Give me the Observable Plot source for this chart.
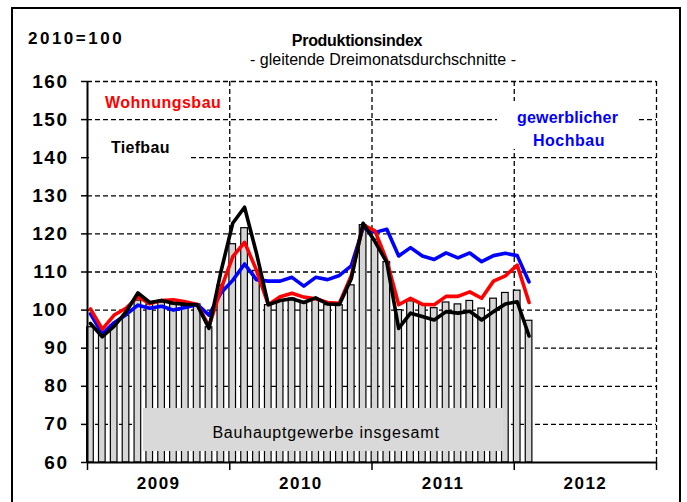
<!DOCTYPE html>
<html><head><meta charset="utf-8">
<script src="https://cdn.jsdelivr.net/npm/d3@7"></script>
<script src="https://cdn.jsdelivr.net/npm/@observablehq/plot@0.6"></script>
<style>
html,body{margin:0;padding:0;background:#fff;}
#chart{width:687px;height:502px;overflow:hidden;}
</style></head><body><div id="chart"></div>
<script>
// Months Jan 2009 .. Feb 2012 (38 months), index 0..37
const years = ["2009", "2010", "2011", "2012"];
const yTicks = [60, 70, 80, 90, 100, 110, 120, 130, 140, 150, 160];
const insgesamt = [95.5, 93.5, 96, 98.5, 102.5, 101.5, 102, 101.5, 101.5, 101.5, 95.5, 106.5,
  117.3, 121.5, 110.3, 101.3, 102.3, 103, 102, 102.8, 101.3, 101.3, 106.5, 122.3,
  118.5, 112.6, 100, 102.3, 101.4, 100.5, 102, 101.5, 102.4, 100.4, 103, 104.5,
  105.1, 97.2];
const wohnungsbau = [100.3, 95, 98.7, 100.5, 103.5, 101.7, 102.5, 102.7, 102.2, 101.5, 95.8, 105.5,
  114, 117.8, 110.5, 101.4, 103.5, 104.4, 103.4, 103, 102, 101.8, 109, 122.4,
  120.8, 113, 101.4, 103.1, 101.5, 101.4, 103.6, 103.6, 104.8, 103.1, 107.6, 109,
  111.8, 102];
const hochbau = [99, 93.8, 96.7, 98.8, 101.3, 100.5, 101, 100, 100.7, 101.5, 98.7, 104.5,
  107.8, 112.1, 108, 107.6, 107.6, 108.6, 106.3, 108.6, 108, 109.1, 111.6, 121.6,
  120.4, 121.2, 114.2, 116.4, 114.2, 113.3, 115, 113.7, 115, 112.7, 114.3, 114.9,
  114.3, 107.4];
const tiefbau = [96.5, 93, 95.8, 99.5, 104.5, 102, 102.5, 101.8, 101.5, 101.4, 95.2, 110,
  122.8, 127, 115, 101.4, 102.5, 103, 102, 103.2, 101.6, 101.5, 108.2, 122.8,
  118, 112.5, 95.2, 99.2, 98.3, 97.4, 99.6, 99.2, 99.7, 97.4, 99.6, 101.6,
  102.2, 93.2];

const rows = insgesamt.map((v, i) => ({
  t: i + 0.25, total: v, w: wohnungsbau[i], h: hochbau[i], tb: tiefbau[i]
}));
const yearBounds = years.map((y, k) => 12 * k).concat([48]);
const yearMids = years.map((y, k) => 12 * k + 6);

const dash = {stroke: "#000", strokeOpacity: 1, strokeWidth: 1.3, strokeDasharray: "5,3"};
const plot = Plot.plot({
  width: 687, height: 502,
  marginLeft: 87, marginRight: 31, marginTop: 81, marginBottom: 40,
  x: {domain: [0, 48], axis: null, label: null},
  y: {domain: [60, 160], axis: null, label: null},
  style: {fontFamily: "'Liberation Sans', Arial, sans-serif", background: "white", color: "#000"},
  marks: [
    Plot.gridY(yTicks.filter(v => v > 60), dash),
    Plot.gridX(yearBounds.slice(1), dash),
    Plot.rectY(rows, {x1: d => d.t - 0.28, x2: d => d.t + 0.28, y1: 60, y2: "total",
      fill: "#d6d6d6", stroke: "#000", strokeWidth: 1.2}),
    Plot.line(rows, {x: "t", y: "h", stroke: "#0000ff", strokeWidth: 3.6, strokeLinejoin: "round"}),
    Plot.line(rows, {x: "t", y: "w", stroke: "#ff0000", strokeWidth: 3.6, strokeLinejoin: "round"}),
    Plot.line(rows, {x: "t", y: "tb", stroke: "#000", strokeWidth: 3.6, strokeLinejoin: "round"}),
    Plot.ruleX([0], {stroke: "#000", strokeWidth: 2}),
    Plot.ruleY([60], {stroke: "#000", strokeWidth: 2}),
    Plot.axisY(yTicks, {label: null, tickSize: 6, tickPadding: 13, strokeWidth: 1.5, fontSize: 19, fontWeight: "bold", tickFormat: d => String(d)}),
    Plot.axisX(yearBounds, {label: null, tickSize: 8, strokeWidth: 1.5, tickFormat: () => ""}),
    Plot.axisX(yearMids, {label: null, tickSize: 0, tickPadding: 14, fontSize: 17, fontWeight: "bold", tickFormat: d => years[(d - 6) / 12]})
  ]
});
document.getElementById("chart").appendChild(plot);

const svg = d3.select(plot);
svg.selectAll('g[aria-label="y-axis tick label"] text, g[aria-label="x-axis tick label"] text')
  .style("letter-spacing", "1.5px");

// annotation backgrounds
svg.append("rect").attr("x", 143).attr("y", 408).attr("width", 360).attr("height", 43).attr("fill", "#d9d9d9");
svg.append("rect").attr("x", 89).attr("y", 128).attr("width", 99).attr("height", 32).attr("fill", "#fff");
svg.append("rect").attr("x", 497).attr("y", 101).attr("width", 139).attr("height", 48).attr("fill", "#fff");
svg.append("rect").attr("x", 12).attr("y", 8).attr("width", 668).attr("height", 520)
  .attr("fill", "none").attr("stroke", "#000").attr("stroke-width", 2);

function label(x, y, s, o = {}) {
  svg.append("text").attr("x", x).attr("y", y)
    .attr("text-anchor", o.anchor || "start")
    .attr("font-family", "'Liberation Sans', Arial, sans-serif")
    .attr("font-size", o.size || 16)
    .attr("font-weight", o.weight || "bold")
    .attr("fill", o.fill || "#000")
    .style("letter-spacing", (o.ls || 0) + "px")
    .text(s);
}
label(28, 44, "2010=100", {size: 17, ls: 2.5});
label(357, 46, "Produktionsindex", {size: 16, anchor: "middle", ls: -0.3});
label(383, 65, "- gleitende Dreimonatsdurchschnitte -", {size: 16, weight: "normal", anchor: "middle"});
label(105, 108, "Wohnungsbau", {fill: "#ff0000", ls: 0.5});
label(111, 153, "Tiefbau", {ls: 0.3});
label(517, 123, "gewerblicher", {fill: "#0000ff", ls: 0.2});
label(533, 146, "Hochbau", {fill: "#0000ff", ls: 0.5});
label(326, 438, "Bauhauptgewerbe insgesamt", {size: 16, weight: "normal", anchor: "middle", ls: 0.8});
</script>
</body></html>
